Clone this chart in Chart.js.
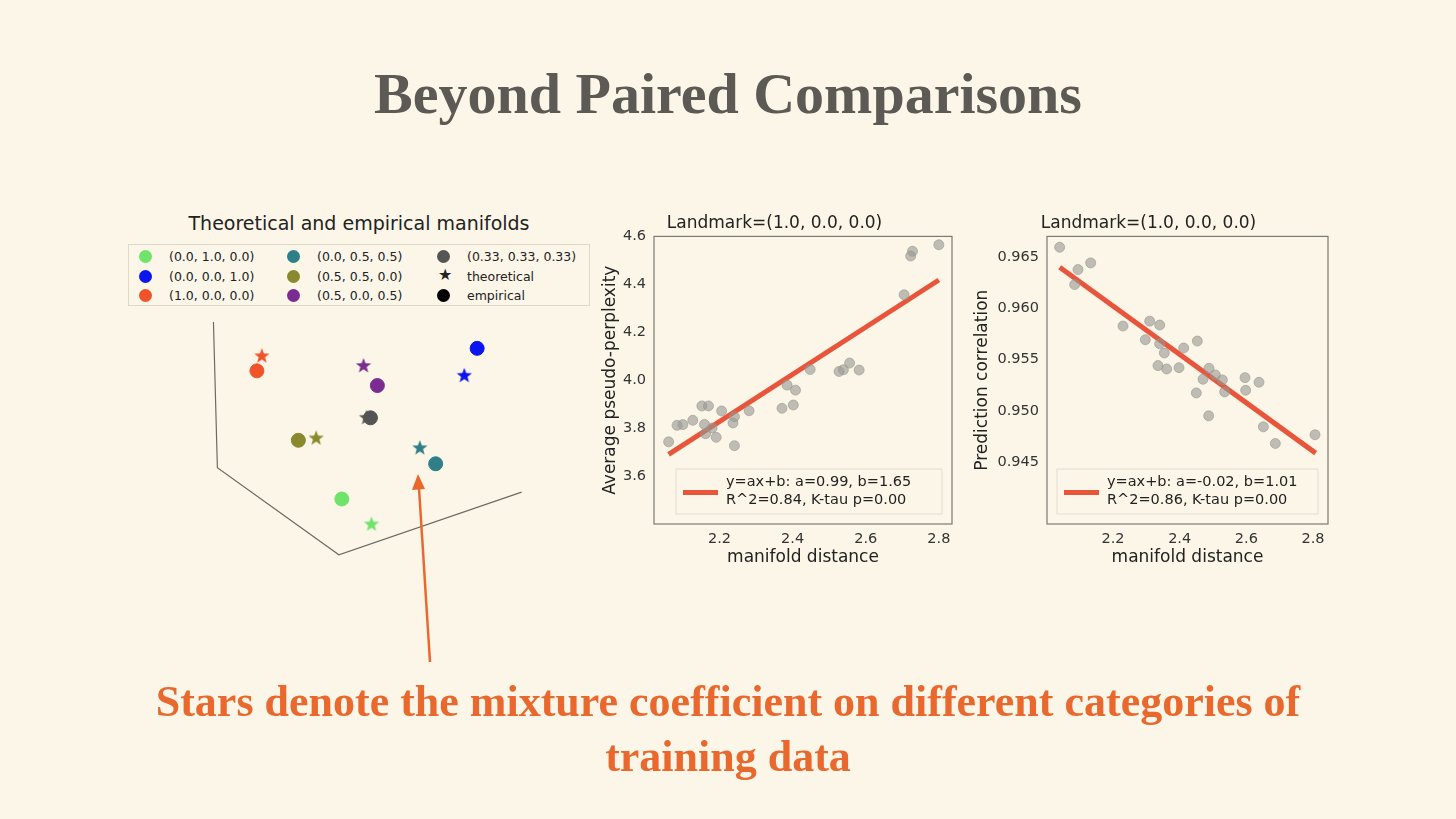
<!DOCTYPE html>
<html><head><meta charset="utf-8">
<script src="https://cdn.jsdelivr.net/npm/chart.js@4/dist/chart.umd.min.js"></script>
<style>
body{margin:0;width:1456px;height:819px;background:#fcf6e8;position:relative;overflow:hidden;font-family:"DejaVu Sans",sans-serif;}
.abs{position:absolute;}
#title{left:0;width:1456px;top:60px;text-align:center;font-family:"Liberation Serif",serif;font-weight:bold;font-size:58px;color:#5d5a55;}
#caption{left:0;width:1456px;top:674px;text-align:center;font-family:"Liberation Serif",serif;font-weight:bold;font-size:44px;line-height:55px;color:#e8682e;}
#ltitle{left:130px;width:458px;top:212px;text-align:center;font-size:19px;color:#222;}
#leg{left:128px;top:244px;width:460px;height:60px;border:1px solid #ddd8cc;background:#fcf6e8;font-size:12.5px;color:#222;}
.li{position:absolute;white-space:nowrap;}
.dot{position:absolute;width:13px;height:13px;border-radius:50%;}
</style></head><body>
<div id="title" class="abs">Beyond Paired Comparisons</div>
<div id="ltitle" class="abs">Theoretical and empirical manifolds</div>
<canvas id="left" class="abs" width="1456" height="819" style="left:0;top:0;width:1456px;height:819px"></canvas>
<div id="leg" class="abs"></div>
<canvas id="mid" class="abs" width="362" height="366" style="left:596px;top:206px;width:362px;height:366px"></canvas>
<canvas id="right" class="abs" width="366" height="366" style="left:968px;top:206px;width:366px;height:366px"></canvas>
<svg class="abs" style="left:0;top:0" width="1456" height="819">
<line x1="430" y1="662" x2="419" y2="488" stroke="#e8682e" stroke-width="2.5"/>
<polygon points="418,474 412,490 425,489" fill="#e8682e"/>
</svg>
<div id="caption" class="abs">Stars denote the mixture coefficient on different categories of<br>training data</div>
<script>
// ---------- data ----------
const mixtures = ["(0.0, 1.0, 0.0)","(0.0, 0.0, 1.0)","(1.0, 0.0, 0.0)","(0.0, 0.5, 0.5)","(0.5, 0.5, 0.0)","(0.5, 0.0, 0.5)","(0.33, 0.33, 0.33)"];
const mixColors = ["#6fe36a","#0b16ef","#f0522a","#2e7f87","#8a892e","#7b2c90","#555555"];
// projected 2D coordinates of 3D manifold points
const theoX = [367,461,256,416,311,359,362];
const theoY = [527,375,355,449,439,365,418];
const empX  = [337,474,251,432,293,373,366];
const empY  = [501,347,370,465,441,385,418];
const frameX = [207,211,334,519];
const frameY = [320,469,558,494];

const pplDist = [2.061,2.084,2.100,2.127,2.152,2.170,2.159,2.162,2.180,2.191,2.206,2.237,2.241,2.241,2.281,2.371,2.385,2.402,2.408,2.448,2.527,2.539,2.556,2.582,2.705,2.723,2.728,2.800];
const pplVal  = [3.742,3.811,3.814,3.832,3.892,3.892,3.815,3.776,3.800,3.761,3.871,3.821,3.847,3.726,3.872,3.882,3.979,3.896,3.958,4.044,4.036,4.043,4.071,4.042,4.356,4.518,4.538,4.565];
const pplFitX = [2.061,2.800];
const pplFitY = [3.690,4.418];

const corDist = [2.040,2.085,2.095,2.133,2.230,2.297,2.310,2.340,2.340,2.335,2.354,2.361,2.398,2.412,2.453,2.450,2.470,2.488,2.487,2.507,2.528,2.535,2.596,2.598,2.638,2.651,2.687,2.806];
const corVal  = [0.96594,0.96231,0.96377,0.96442,0.95827,0.95694,0.95875,0.95837,0.95655,0.95442,0.95565,0.95409,0.95422,0.95613,0.95681,0.95176,0.95309,0.95416,0.94953,0.95351,0.95303,0.95186,0.95325,0.95202,0.95280,0.94846,0.94684,0.94769];
const corFitX = [2.040,2.808];
const corFitY = [0.96400,0.94590];

const midTicksX=[2.2,2.4,2.6,2.8], midTicksY=[3.6,3.8,4.0,4.2,4.4,4.6];
const rightTicksY=[0.945,0.950,0.955,0.960,0.965];

// ---------- helpers ----------
function starImg(color,r){
  const c=document.createElement('canvas');c.width=c.height=2*r+2;const g=c.getContext('2d');
  g.fillStyle=color;g.beginPath();
  for(let i=0;i<10;i++){const a=-Math.PI/2+i*Math.PI/5;const rr=i%2?r*0.42:r;g.lineTo(r+1+rr*Math.cos(a),r+1+rr*Math.sin(a));}
  g.closePath();g.fill();return c;
}
const leg=document.getElementById('leg');
const cols=[[0,1,2],[3,4,5],[6,'t','e']];
const colX=[10,158,308];
cols.forEach((col,ci)=>col.forEach((k,ri)=>{
  const y=4+ri*19.5;
  let mk, label;
  if(k==='t'){mk='<span style="position:absolute;left:'+(colX[ci]+1)+'px;top:'+(y-4)+'px;font-size:16px">★</span>';label='theoretical';}
  else if(k==='e'){mk='<div class="dot" style="left:'+colX[ci]+'px;top:'+(y+1)+'px;background:#000"></div>';label='empirical';}
  else{mk='<div class="dot" style="left:'+colX[ci]+'px;top:'+(y+1)+'px;background:'+mixColors[k]+'"></div>';label=mixtures[k];}
  leg.innerHTML+=mk+'<div class="li" style="left:'+(colX[ci]+30)+'px;top:'+y+'px">'+label+'</div>';
}));

// ---------- left: projected 3D scatter ----------
const lds=[{type:'line',data:frameX.map((x,i)=>({x,y:frameY[i]})),borderColor:'#6b6b62',borderWidth:1.2,pointRadius:0,tension:0}];
mixtures.forEach((m,i)=>{
  lds.push({type:'scatter',data:[{x:theoX[i],y:theoY[i]}],pointStyle:starImg(mixColors[i],8),pointRadius:8});
  lds.push({type:'scatter',data:[{x:empX[i],y:empY[i]}],backgroundColor:mixColors[i],borderColor:mixColors[i],pointRadius:7});
});
new Chart(document.getElementById('left'),{data:{datasets:lds},options:{responsive:false,animation:false,devicePixelRatio:1,
  layout:{padding:0},plugins:{legend:{display:false},tooltip:{enabled:false}},
  scales:{x:{type:'linear',min:0,max:1456,display:false},y:{type:'linear',min:0,max:819,reverse:true,display:false}}}});

// ---------- scatter + fit charts ----------
const framePlugin={id:'frame',afterDraw(c){const a=c.chartArea,g=c.ctx;g.save();g.strokeStyle='#7a7a72';g.lineWidth=1.2;g.strokeRect(a.left,a.top,a.right-a.left,a.bottom-a.top);
  const o=c.options.plugins.fitlegend;const bx=a.left+o.x,by=a.bottom-o.b,bw=a.right-a.left-o.x-o.r,bh=45;
  g.fillStyle='rgba(252,246,232,0.85)';g.strokeStyle='#e0dccf';g.lineWidth=1;g.fillRect(bx,by,bw,bh);g.strokeRect(bx,by,bw,bh);
  g.strokeStyle='#e8553a';g.lineWidth=5;g.beginPath();g.moveTo(bx+7,by+bh/2+1);g.lineTo(bx+42,by+bh/2+1);g.stroke();
  g.fillStyle='#222';g.font='14.5px "DejaVu Sans"';g.textBaseline='middle';g.fillText(o.l1,bx+50,by+13);g.fillText(o.l2,bx+50,by+31);g.restore();}};
function mk(id,xs,ys,fx,fy,xr,yr,ticksY,ylabel,dec,leg,yw){
  new Chart(document.getElementById(id),{data:{datasets:[
    {type:'scatter',data:xs.map((x,i)=>({x,y:ys[i]})),backgroundColor:'rgba(150,150,145,0.6)',borderColor:'rgba(150,150,145,0.6)',pointRadius:5},
    {type:'line',data:fx.map((x,i)=>({x,y:fy[i]})),borderColor:'#e8553a',borderWidth:5,pointRadius:0}]},
   options:{responsive:false,animation:false,devicePixelRatio:1,layout:{padding:{right:5,top:0}},
    plugins:{legend:{display:false},tooltip:{enabled:false},fitlegend:leg,
      title:{display:true,text:'Landmark=(1.0, 0.0, 0.0)',color:'#222',font:{size:17,family:'DejaVu Sans',weight:'normal'},padding:{top:7,bottom:3}}},
    scales:{
     x:{type:'linear',min:xr[0],max:xr[1],grid:{display:false,drawTicks:true,tickLength:5,tickColor:'#333'},border:{display:false},
        afterBuildTicks(s){s.ticks=midTicksX.map(v=>({value:v}));},afterFit(s){s.height=48;},
        ticks:{color:'#333',font:{size:14.5,family:'DejaVu Sans'},callback:v=>v.toFixed(1),padding:2},
        title:{display:true,text:'manifold distance',color:'#222',font:{size:17,family:'DejaVu Sans'},padding:{top:0}}},
     y:{type:'linear',min:yr[0],max:yr[1],grid:{display:false,tickLength:5,tickColor:'#333'},border:{display:false},
        afterBuildTicks(s){s.ticks=ticksY.map(v=>({value:v}));},afterFit(s){s.width=yw;},
        ticks:{color:'#333',font:{size:14.5,family:'DejaVu Sans'},callback:v=>v.toFixed(dec),padding:3},
        title:{display:true,text:ylabel,color:'#222',font:{size:17,family:'DejaVu Sans'},padding:{bottom:2}}}}},
   plugins:[framePlugin]});
}
mk('mid',pplDist,pplVal,pplFitX,pplFitY,[2.021,2.836],[3.399,4.6],midTicksY,'Average pseudo-perplexity',1,
  {x:22,r:10,b:55,l1:'y=ax+b: a=0.99, b=1.65',l2:'R^2=0.84, K-tau p=0.00'},58);
mk('right',corDist,corVal,corFitX,corFitY,[2.002,2.845],[0.939,0.967],rightTicksY,'Prediction correlation',3,
  {x:10,r:10,b:55,l1:'y=ax+b: a=-0.02, b=1.01',l2:'R^2=0.86, K-tau p=0.00'},79);
</script>
</body></html>
